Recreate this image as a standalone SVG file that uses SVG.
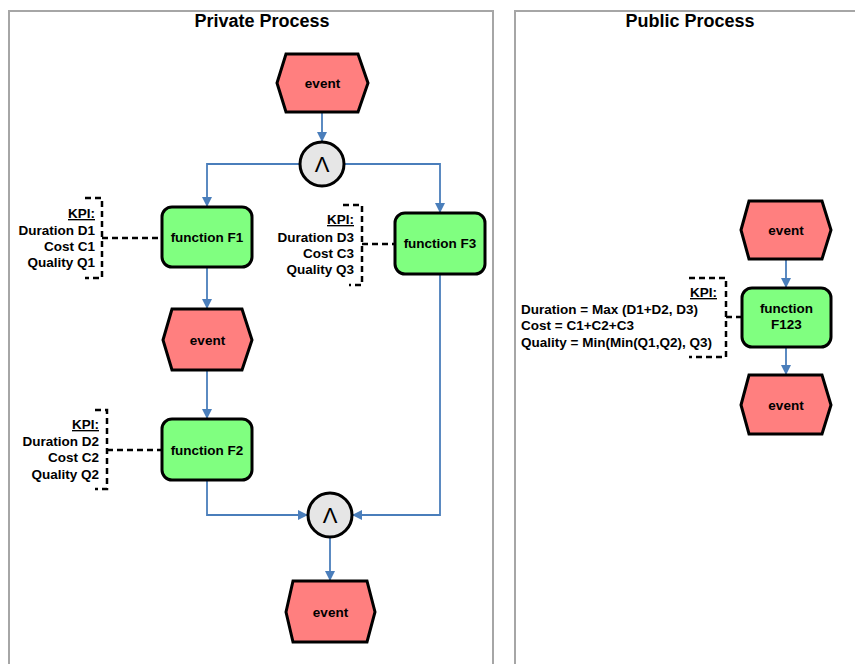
<svg xmlns="http://www.w3.org/2000/svg" width="855" height="664" viewBox="0 0 855 664">
  <defs>
    <marker id="arrow" viewBox="0 0 10 10" refX="10" refY="5" markerWidth="11" markerHeight="10" markerUnits="userSpaceOnUse" orient="auto">
      <path d="M0,0 L10,5 L0,10 Z" fill="#4a7ebb"/>
    </marker>
    <style>
      .panel { fill: #ffffff; stroke: #a6a6a6; stroke-width: 2; }
      .title { font-family: "Liberation Sans", Arial, sans-serif; font-weight: bold; font-size: 18px; fill: #000; text-anchor: middle; }
      .event { fill: #ff7f7f; stroke: #000; stroke-width: 3; stroke-linejoin: miter; }
      .func { fill: #80ff80; stroke: #000; stroke-width: 3; }
      .gate { fill: #e6e6e6; stroke: #000; stroke-width: 3; }
      .lbl { font-family: "Liberation Sans", Arial, sans-serif; font-weight: bold; font-size: 13.5px; fill: #000; text-anchor: middle; }
      .op { font-family: "Liberation Sans", "DejaVu Sans", sans-serif; font-size: 22px; fill: #000; text-anchor: middle; }
      .kpi { font-family: "Liberation Sans", Arial, sans-serif; font-weight: bold; font-size: 13.5px; fill: #000; text-anchor: end; }
      .kpil { font-family: "Liberation Sans", Arial, sans-serif; font-weight: bold; font-size: 13.5px; fill: #000; text-anchor: start; }
      .bracket { fill: none; stroke: #000; stroke-width: 2.5; stroke-dasharray: 6 4; }
      .conn { fill: none; stroke: #4a7ebb; stroke-width: 1.8; marker-end: url(#arrow); }
    </style>
  </defs>

  <rect width="855" height="664" fill="#ffffff"/>

  <!-- swimlane panels -->
  <g id="panel-private">
    <rect class="panel" x="9" y="11" width="484" height="680"/>
    <text class="title" x="262" y="27">Private Process</text>
  </g>
  <g id="panel-public">
    <rect class="panel" x="515" y="11" width="360" height="680"/>
    <text class="title" x="690" y="27">Public Process</text>
  </g>

  <!-- connectors -->
  <g id="connectors">
    <path class="conn" d="M322,112 V142"/>
    <path class="conn" d="M300,164 H207 V207"/>
    <path class="conn" d="M344,164 H440 V213"/>
    <path class="conn" d="M207,267 V309"/>
    <path class="conn" d="M207,370 V419"/>
    <path class="conn" d="M207,480 V515 H308"/>
    <path class="conn" d="M440,274 V515 H352"/>
    <path class="conn" d="M330,537 V581"/>
    <path class="conn" d="M786,259 V288"/>
    <path class="conn" d="M786,347 V375"/>
  </g>

  <!-- private process nodes -->
  <g id="event-start">
    <polygon class="event" points="277,83 286,54 358,54 368,83 358,112 286,112"/>
    <text class="lbl" x="322.5" y="88">event</text>
  </g>

  <g id="and-split">
    <circle class="gate" cx="322" cy="164" r="22"/>
    <text class="op" x="322" y="172">Λ</text>
  </g>

  <g id="function-f1">
    <rect class="func" x="162" y="207" width="90" height="60" rx="10"/>
    <text class="lbl" x="207" y="242">function F1</text>
    <path class="bracket" d="M85,198 H102 V278 H85 M102,238 H162"/>
    <text class="kpi" x="95" y="218" text-decoration="underline">KPI:</text>
    <text class="kpi" x="95" y="235">Duration D1</text>
    <text class="kpi" x="95" y="251">Cost C1</text>
    <text class="kpi" x="95" y="267">Quality Q1</text>
  </g>

  <g id="event-mid">
    <polygon class="event" points="163,340 172,309 242,309 252,340 242,370 172,370"/>
    <text class="lbl" x="207.5" y="345">event</text>
  </g>

  <g id="function-f2">
    <rect class="func" x="162" y="419" width="90" height="61" rx="10"/>
    <text class="lbl" x="207" y="455">function F2</text>
    <path class="bracket" d="M95,410 H107 V489 H95 M107,450 H162"/>
    <text class="kpi" x="99" y="429" text-decoration="underline">KPI:</text>
    <text class="kpi" x="99" y="446">Duration D2</text>
    <text class="kpi" x="99" y="462">Cost C2</text>
    <text class="kpi" x="99" y="479">Quality Q2</text>
  </g>

  <g id="function-f3">
    <rect class="func" x="395" y="213" width="90" height="61" rx="10"/>
    <text class="lbl" x="440" y="248">function F3</text>
    <path class="bracket" d="M343,205 H362 V285 H349 M362,244 H395"/>
    <text class="kpi" x="354" y="224" text-decoration="underline">KPI:</text>
    <text class="kpi" x="354" y="242">Duration D3</text>
    <text class="kpi" x="354" y="258">Cost C3</text>
    <text class="kpi" x="354" y="274">Quality Q3</text>
  </g>

  <g id="and-join">
    <circle class="gate" cx="330" cy="515" r="22"/>
    <text class="op" x="330" y="523">Λ</text>
  </g>

  <g id="event-end">
    <polygon class="event" points="286,612 293,581 367,581 375,612 367,642 293,642"/>
    <text class="lbl" x="330.5" y="617">event</text>
  </g>

  <!-- public process nodes -->
  <g id="pub-event-start">
    <polygon class="event" points="741,230 749,201 822,201 831,230 822,259 749,259"/>
    <text class="lbl" x="786" y="235">event</text>
  </g>

  <g id="function-f123">
    <rect class="func" x="742" y="288" width="89" height="59" rx="10"/>
    <text class="lbl" x="786.5" y="313">function</text>
    <text class="lbl" x="786.5" y="329">F123</text>
    <path class="bracket" d="M689,278 H726 V357 H689 M726,317 H742"/>
    <text class="kpi" x="717" y="297" text-decoration="underline">KPI:</text>
    <text class="kpil" x="521" y="314">Duration = Max (D1+D2, D3)</text>
    <text class="kpil" x="521" y="330">Cost = C1+C2+C3</text>
    <text class="kpil" x="521" y="347">Quality = Min(Min(Q1,Q2), Q3)</text>
  </g>

  <g id="pub-event-end">
    <polygon class="event" points="741,405 749,375 822,375 831,405 822,434 749,434"/>
    <text class="lbl" x="786" y="410">event</text>
  </g>
</svg>
